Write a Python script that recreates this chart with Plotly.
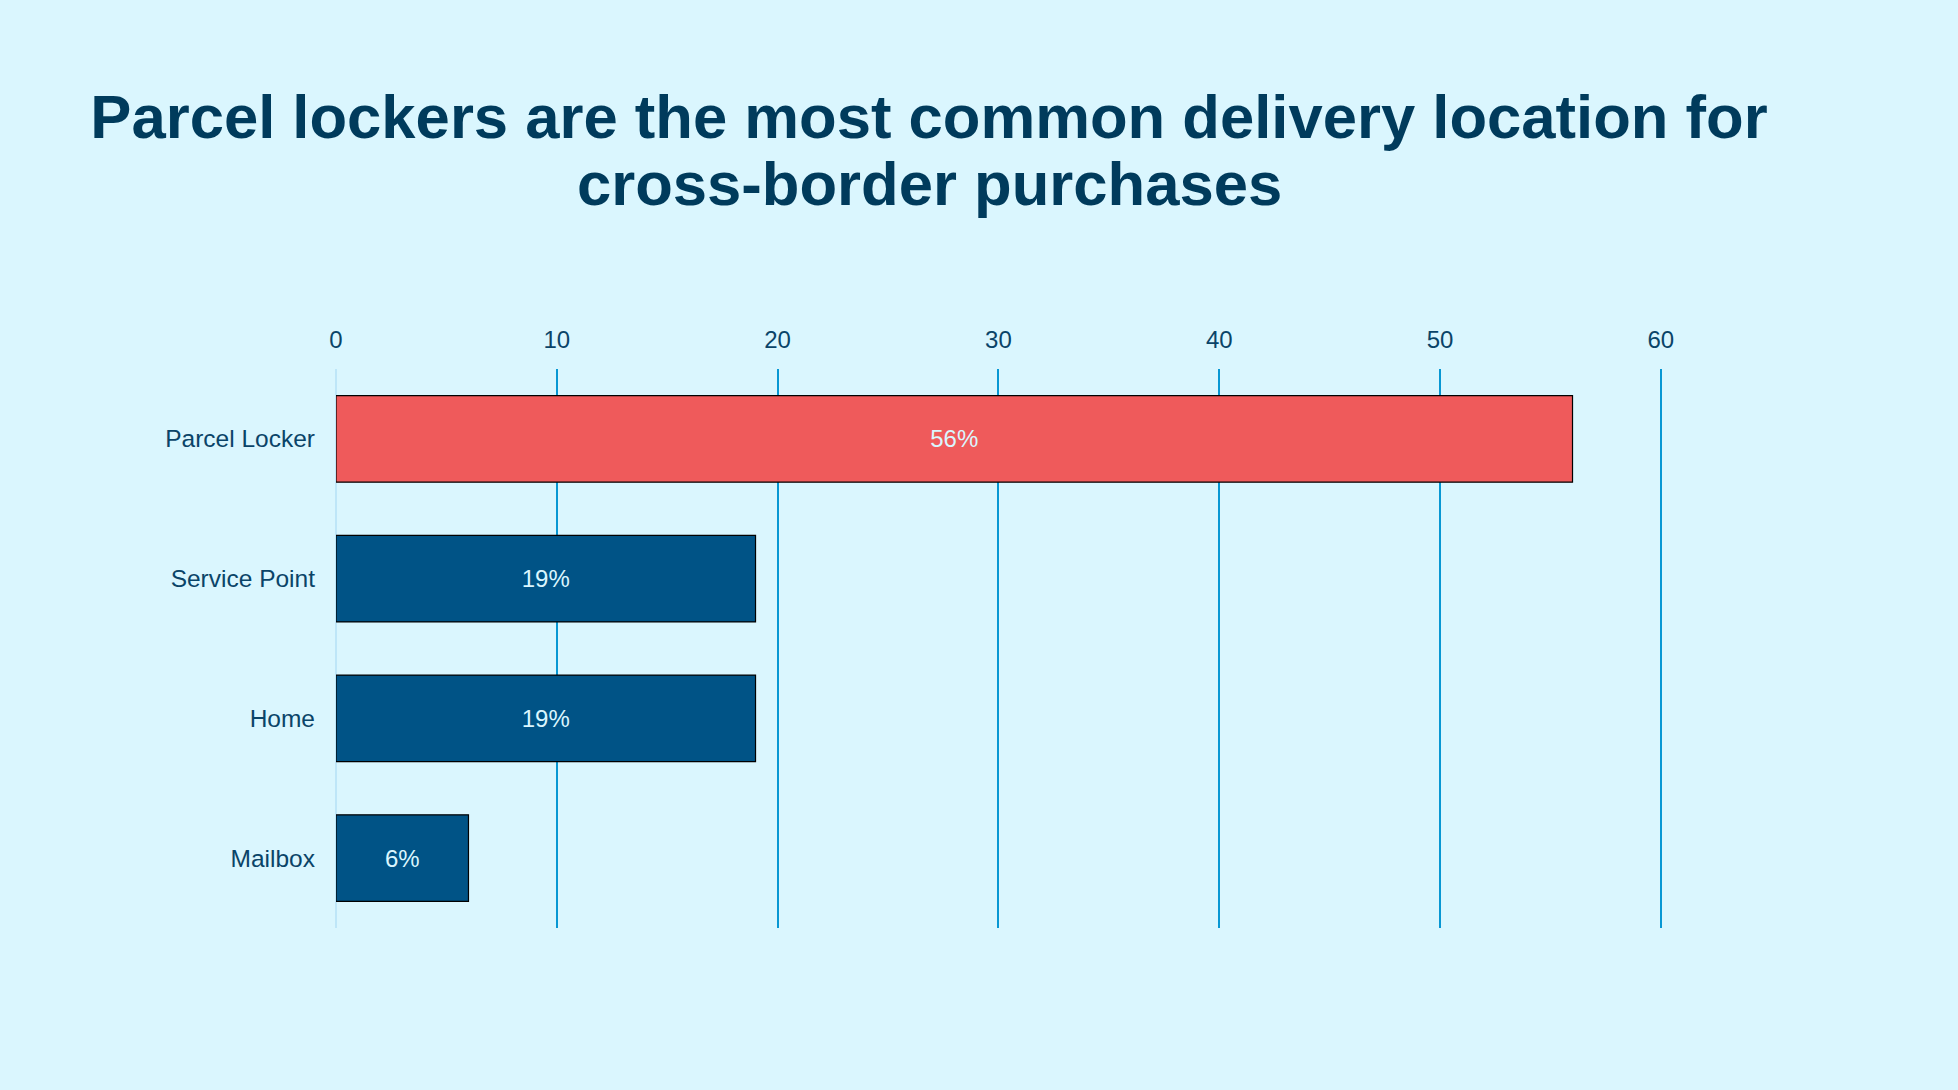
import plotly.graph_objects as go

categories = ["Parcel Locker", "Service Point", "Home", "Mailbox"]
values = [56, 19, 19, 6]
labels = ["56%", "19%", "19%", "6%"]
bar_colors = ["#EF5A5B", "#005386", "#005386", "#005386"]
tick_vals = [0, 10, 20, 30, 40, 50, 60]

title_line1 = "Parcel lockers are the most common delivery location for"
title_line2 = "cross-border purchases"

BG = "#DAF6FE"
DARK = "#003B5C"
FONT = "Liberation Sans, Arial, sans-serif"

W, H = 1958, 1090
L, T, B = 336, 369, 162
XMAX = 62
PX_PER_UNIT = 22.08
plot_w = XMAX * PX_PER_UNIT
R = W - L - plot_w
plot_h = H - T - B

fig = go.Figure(
    go.Bar(
        x=values,
        y=categories,
        orientation="h",
        width=0.62,
        marker=dict(color=bar_colors, line=dict(color="#000000", width=1.2)),
        text=labels,
        textposition="inside",
        insidetextanchor="middle",
        textfont=dict(family=FONT, size=24, color=BG),
        hoverinfo="skip",
    )
)

title_center_px = 929
TITLE_SIZE = 61.6
fig.update_layout(
    width=W,
    height=H,
    paper_bgcolor=BG,
    plot_bgcolor=BG,
    margin=dict(l=L, r=R, t=T, b=B, pad=0),
    showlegend=False,
    font=dict(family=FONT, color=DARK),
    title=dict(
        text="<b>" + title_line1 + "</b>",
        font=dict(family=FONT, size=TITLE_SIZE, color=DARK),
        xref="container",
        x=title_center_px / W,
        xanchor="center",
        yref="container",
        y=1 - 116.5 / H,
        yanchor="middle",
    ),
    annotations=[
        dict(
            text="<b>" + title_line2 + "</b>",
            font=dict(family=FONT, size=TITLE_SIZE, color=DARK),
            xref="paper",
            x=(title_center_px - L) / plot_w,
            xanchor="center",
            yref="paper",
            y=1 + (T - 184) / plot_h,
            yanchor="middle",
            showarrow=False,
        )
    ],
    xaxis=dict(
        side="top",
        range=[0, XMAX],
        tickvals=tick_vals,
        showgrid=True,
        gridcolor="#0897D3",
        gridwidth=2,
        zeroline=True,
        zerolinecolor="#BEE6F8",
        zerolinewidth=2,
        showline=False,
        ticks="",
        tickfont=dict(family=FONT, size=24, color="#0A4468"),
        ticklabelstandoff=15,
    ),
    yaxis=dict(
        categoryorder="array",
        categoryarray=categories,
        autorange="reversed",
        showgrid=False,
        zeroline=False,
        showline=False,
        ticks="",
        tickfont=dict(family=FONT, size=24.5, color="#0A4468"),
        ticklabelstandoff=20,
    ),
)

fig.write_html(
    "out.html",
    config={"displayModeBar": False},
    post_script="document.body.style.margin='0';document.body.style.padding='0';document.documentElement.style.overflow='hidden';",
)
